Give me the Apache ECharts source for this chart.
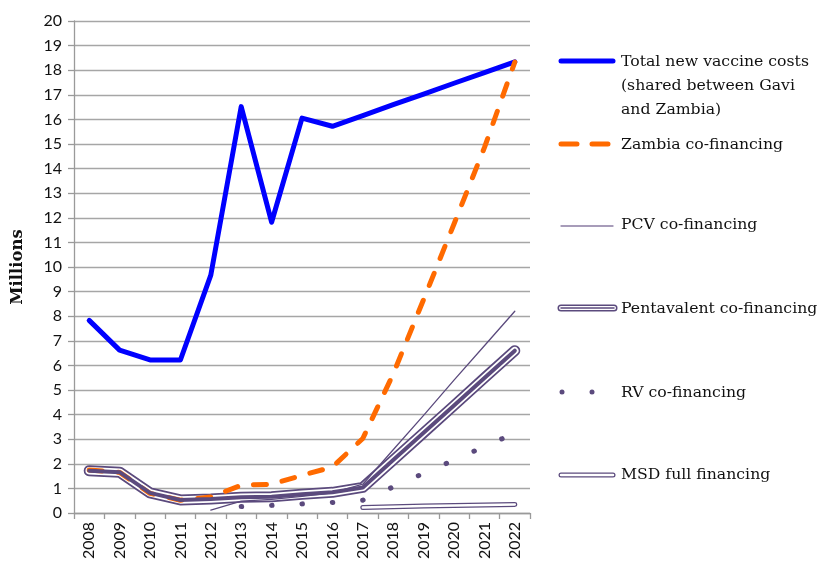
<!DOCTYPE html>
<html>
<head>
<meta charset="utf-8">
<script src="https://cdn.jsdelivr.net/npm/echarts@6/dist/echarts.min.js"></script>
<style>html,body{margin:0;padding:0;background:#fff}#c{width:818px;height:567px}</style>
</head>
<body>
<div id="c"></div>
<script>
const years = ['2008','2009','2010','2011','2012','2013','2014','2015','2016','2017','2018','2019','2020','2021','2022'];
const totalCosts = [7.83, 6.62, 6.22, 6.22, 9.67, 16.52, 11.82, 16.05, 15.72, 16.15, 16.6, 17.03, 17.47, 17.9, 18.34];
const zambiaCofin = [1.75, 1.65, 0.8, 0.52, 0.65, 1.13, 1.17, 1.53, 1.87, 3.03, 5.65, 8.68, 11.75, 14.85, 18.33];
const pcvCofin = [null, null, null, null, 0.12, 0.48, 0.55, 0.68, 0.82, 1.17, 2.57, 3.97, 5.4, 6.8, 8.2];
const pentaCofin = [1.72, 1.66, 0.82, 0.53, 0.57, 0.64, 0.66, 0.76, 0.84, 1.04, 2.15, 3.26, 4.37, 5.49, 6.6];
const rvCofin = [null, null, null, null, null, 0.26, 0.31, 0.37, 0.43, 0.52, 1.06, 1.61, 2.15, 2.7, 3.25];
const msdFull = [null, null, null, null, null, null, null, null, null, 0.22, 0.25, 0.28, 0.3, 0.33, 0.35];
const yTicks = {min: 0, max: 20, interval: 1};

const PURPLE = '#5b4a7d';
const chart = echarts.init(document.getElementById('c'), null, {renderer: 'canvas'});
const noSym = {showSymbol: false, symbol: 'none', silent: true, animation: false};
function lineSeries(name, data, style, z) {
  return Object.assign({type: 'line', name, data, z, lineStyle: Object.assign({cap: 'round', join: 'round'}, style)}, noSym);
}
const legendFont = '15.7px "DejaVu Serif"';
const lx1 = 561, lx2 = 613, tx = 621;
function lg(y, stroke, width, extra, x2) {
  return {type: 'line', shape: {x1: lx1, y1: y, x2: x2 || lx2, y2: y}, style: Object.assign({stroke, lineWidth: width, lineCap: 'round'}, extra || {})};
}
function txt(y, s) {
  return {type: 'text', style: {text: s, x: tx, y: y, font: legendFont, fill: '#111', verticalAlign: 'middle'}};
}
chart.setOption({
  animation: false,
  grid: {left: 74, top: 21, width: 456, height: 492, containLabel: false},
  xAxis: {
    type: 'category', data: years, boundaryGap: true,
    axisLine: {lineStyle: {color: '#9a9a9a', width: 1.3}},
    axisTick: {show: true, interval: 0, length: 6, lineStyle: {color: '#9a9a9a', width: 1.3}},
    axisLabel: {interval: 0, rotate: 90, margin: 9, fontFamily: 'Lato', fontSize: 16, color: '#111'}
  },
  yAxis: {
    type: 'value', min: yTicks.min, max: yTicks.max, interval: yTicks.interval,
    name: 'Millions', nameLocation: 'middle', nameGap: 48, nameRotate: 90,
    nameTextStyle: {fontFamily: 'DejaVu Serif', fontWeight: 'bold', fontSize: 16.5, color: '#111'},
    axisLine: {show: true, lineStyle: {color: '#9a9a9a', width: 1.3}},
    axisTick: {show: true, length: 6, lineStyle: {color: '#9a9a9a', width: 1.3}},
    axisLabel: {margin: 12, fontFamily: 'Lato', fontSize: 16, color: '#111'},
    splitLine: {lineStyle: {color: '#a6a6a6', width: 1.3}}
  },
  series: [
    lineSeries('Total new vaccine costs (shared between Gavi and Zambia)', totalCosts, {color: '#0000ff', width: 5}, 2),
    lineSeries('Pentavalent co-financing', pentaCofin, {color: PURPLE, width: 11}, 3),
    lineSeries('penta-gap', pentaCofin, {color: '#ffffff', width: 7.5}, 4),
    lineSeries('Zambia co-financing', zambiaCofin, {color: '#ff6a00', width: 5, type: [13, 16]}, 5),
    lineSeries('penta-core', pentaCofin, {color: PURPLE, width: 4}, 6),
    lineSeries('PCV co-financing', pcvCofin, {color: PURPLE, width: 1.3}, 7),
    lineSeries('RV co-financing', rvCofin, {color: PURPLE, width: 5, type: [0.5, 29.9]}, 8),
    lineSeries('MSD full financing', msdFull, {color: PURPLE, width: 5}, 9),
    lineSeries('msd-gap', msdFull, {color: '#ffffff', width: 2.5}, 10)
  ],
  graphic: [
    lg(61, '#0000ff', 5),
    txt(62, 'Total new vaccine costs'),
    txt(86, '(shared between Gavi'),
    txt(110, 'and Zambia)'),
    lg(144, '#ff6a00', 5, {lineDash: [16, 15]}),
    txt(145, 'Zambia co-financing'),
    lg(226, '#8a7ca3', 1.3),
    txt(225, 'PCV co-financing'),
    lg(308, PURPLE, 7, null, 614),
    lg(308, '#ffffff', 4, null, 614),
    lg(308, PURPLE, 1.5, null, 614),
    txt(309, 'Pentavalent co-financing'),
    {type: 'circle', shape: {cx: 562, cy: 392, r: 2.5}, style: {fill: PURPLE}},
    {type: 'circle', shape: {cx: 592, cy: 392, r: 2.5}, style: {fill: PURPLE}},
    txt(393, 'RV co-financing'),
    lg(475, PURPLE, 5),
    lg(475, '#ffffff', 2.5),
    txt(475, 'MSD full financing')
  ]
});
</script>
</body>
</html>
